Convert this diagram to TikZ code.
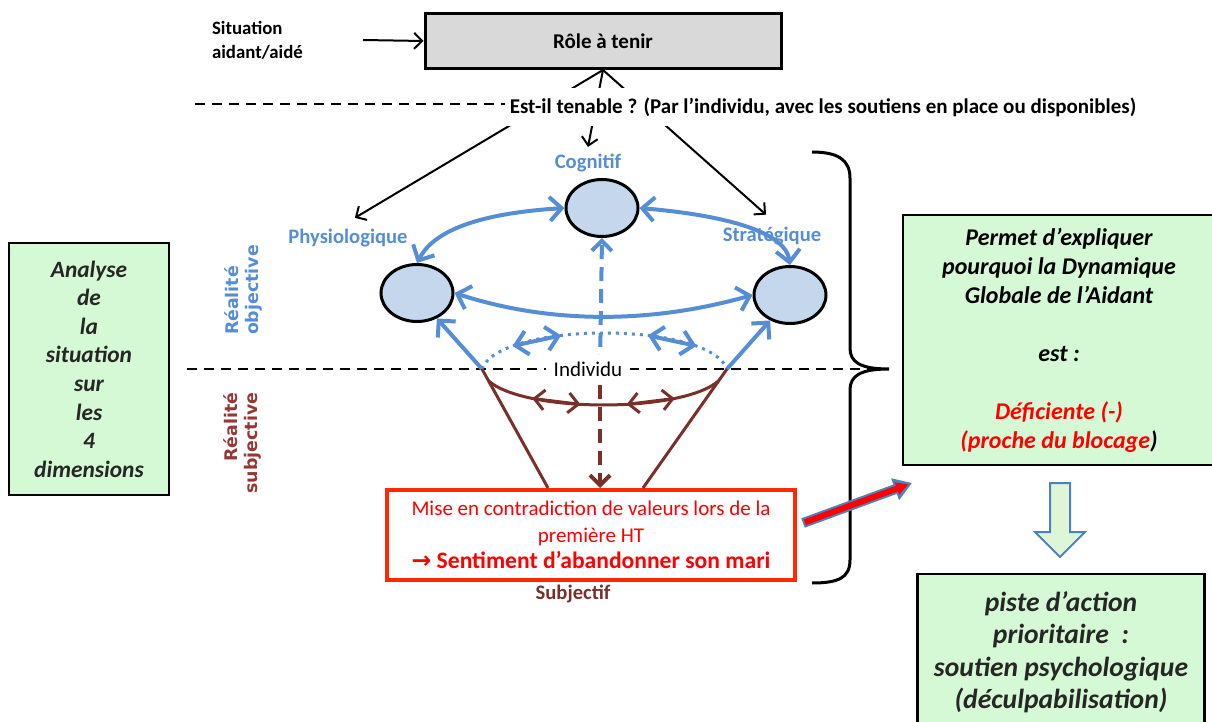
\documentclass[tikz,border=0pt]{standalone}
\usepackage{fontspec}
\setmainfont{Carlito}
\newfontfamily\dejavu{DejaVu Sans}
\usetikzlibrary{arrows.meta,shapes.geometric,shapes.arrows,positioning}

\definecolor{dimblue}{RGB}{85,142,213}
\definecolor{dimfill}{RGB}{197,215,236}
\definecolor{subbrown}{RGB}{122,48,42}
\definecolor{sublabel}{RGB}{149,55,53}
\definecolor{boxred}{RGB}{255,40,0}
\definecolor{greenfill}{RGB}{213,249,213}
\definecolor{hollowfill}{RGB}{222,246,216}
\definecolor{rolegray}{RGB}{217,217,217}
\definecolor{arrowblue}{RGB}{79,129,189}
\definecolor{textgray}{RGB}{38,38,38}

\begin{document}
\begin{tikzpicture}[
        x=0.5pt, y=-0.5pt,
        every node/.style={align=center},
        dim/.style={ellipse, draw, line width=1.5pt, fill=dimfill, minimum width=36pt, minimum height=28.5pt},
        dimlabel/.style={text=dimblue, font=\bfseries\fontsize{10.3}{12}\selectfont},
        greenbox/.style={draw, line width=1.2pt, fill=greenfill, text=textgray},
        blk/.style={line width=1pt, -{Straight Barb[length=4pt,width=8pt]}},
        bluearr/.style={draw=dimblue, line width=2pt, {Straight Barb[length=6pt,width=12pt]}-{Straight Barb[length=6pt,width=12pt]}},
        brownline/.style={draw=subbrown, line width=1.5pt},
    ]
    \tikzstyle{longdash}=[line width=2pt, dash pattern=on 7pt off 4pt, -{Straight Barb[length=5pt,width=10pt]}]
    \useasboundingbox (0,0) rectangle (1212,722);

    % role and question
    \node[draw, line width=1.5pt, fill=rolegray, minimum width=178pt, minimum height=27.5pt,
        font=\bfseries\fontsize{10.5}{12}\selectfont] (role) at (603,41) {Rôle à tenir};
    \node[anchor=west, align=left, font=\bfseries\fontsize{9.4}{12}\selectfont] (sit) at (205,40) {Situation\\aidant/aidé};
    \coordinate (sitend) at (363,40);
    \draw[blk] (sitend) -- (role.west);

    \node[dimlabel] (cogl) at (588,163) {Cognitif};
    \node[dimlabel] (phyl) at (348,238) {Physiologique};
    \node[dimlabel] (strl) at (772,236) {Stratégique};
    \draw[blk, shorten >=4pt] (role.south) -- (phyl.north);
    \draw[blk] (role.south) -- (cogl.north);
    \draw[blk, shorten >=4pt] (role.south) -- (strl.north);

    \node[fill=white, inner xsep=2pt, inner ysep=5pt, font=\bfseries\fontsize{10.5}{12}\selectfont] (tenable) at (823,107)
        {Est-il tenable ? (Par l’individu, avec les soutiens en place ou disponibles)};
    \coordinate (dashl) at (195,104);
    \draw[line width=1pt, dash pattern=on 5pt off 3.5pt] (dashl) -- (dashl -| tenable.west);

    % the three objective dimensions
    \node[dim] (cog) at (602,208) {};
    \node[dim] (phy) at (417,293) {};
    \node[dim] (str) at (790,295) {};
    \draw[bluearr] (phy.north) .. controls (432,234) and (470,214) .. (cog.west);
    \draw[bluearr] (cog.east) .. controls (710,214) and (785,228) .. (str.north);
    \draw[bluearr] (phy.east) .. controls (550,324) and (650,324) .. (str.west);

    % individu line
    \coordinate (dl) at (187,369);
    \coordinate (dr) at (885,369);
    \coordinate (vl) at (482,369);
    \coordinate (vr) at (727,369);
    \coordinate (ind) at (600,369);
    \draw[line width=1pt, dash pattern=on 5pt off 3.5pt] (dl) -- (dr);
    \draw[dimblue, line width=1.5pt, dash pattern=on 1.5pt off 2.5pt] (vl) .. controls (500,321) and (709,321) .. (vr)
        coordinate[pos=.2] (d1) coordinate[pos=.37] (d2) coordinate[pos=.63] (d3) coordinate[pos=.8] (d4);
    \draw[bluearr] (d1) -- (d2);
    \draw[bluearr] (d3) -- (d4);
    \draw[bluearr, {}-{Straight Barb[length=6pt,width=12pt]}] (vl) -- (phy.-52);
    \draw[bluearr, {}-{Straight Barb[length=6pt,width=12pt]}] (vr) -- (str.-128);
    \draw[dimblue, longdash] (ind) -- (cog.south);
    \node[fill=white, inner xsep=4pt, font=\fontsize{10.5}{12}\selectfont] (indiv) at (588,369) {Individu};

    % subjective part
    \node[draw=boxred, line width=2pt, fill=white, minimum width=204pt, minimum height=45pt, text=red,
        font=\fontsize{10.5}{13.3}\selectfont] (redbox) at (591,535)
        {Mise en contradiction de valeurs lors de la\\première HT\\{\bfseries\fontsize{11.8}{13.3}\selectfont{\dejavu\bfseries →} Sentiment d’abandonner son mari}};
    \node[below=-2pt of redbox, xshift=-9pt, text=subbrown, font=\bfseries\fontsize{10.3}{12}\selectfont] (subj) {Subjectif};
    \path (redbox.north) ++(-43,0) coordinate (bl) ++(95,0) coordinate (br);
    \draw[brownline] (vl) -- (bl) coordinate[pos=.1] (al);
    \draw[brownline] (vr) -- (br) coordinate[pos=.1] (ar);
    \draw[brownline] (al) .. controls (525,413) and (682,413) .. (ar)
        coordinate[pos=.24] (e1) coordinate[pos=.42] (e2) coordinate[pos=.58] (e3) coordinate[pos=.76] (e4);
    \draw[brownline, {Straight Barb[length=5pt,width=10pt]}-{Straight Barb[length=5pt,width=10pt]}] (e1) -- (e2);
    \draw[brownline, {Straight Barb[length=5pt,width=10pt]}-{Straight Barb[length=5pt,width=10pt]}] (e3) -- (e4);
    \draw[subbrown, longdash, shorten <=1pt] (indiv.south -| ind) -- (ind |- redbox.north);

    \node[rotate=90, align=left, text=dimblue, font=\dejavu\bfseries\fontsize{8.7}{10}\selectfont] (objl) at (243,290) {Réalité\\objective};
    \node[rotate=90, align=right, text=sublabel, font=\dejavu\bfseries\fontsize{8.7}{10}\selectfont] (subl) at (242,443) {Réalité\\subjective};

    % conclusions
    \node[greenbox, minimum width=80pt, minimum height=126pt, font=\bfseries\itshape\fontsize{11.7}{14.3}\selectfont] (analyse) at (89,369)
        {Analyse\\de\\la\\situation\\sur\\les\\4\\dimensions};
    \draw[line width=1.5pt] (812,152) .. controls (838,152) and (850,160) .. (850,178) -- (850,348)
        .. controls (850,362) and (860,369) .. (889,369) .. controls (860,369) and (850,376) .. (850,390)
        -- (850,560) .. controls (850,578) and (838,583) .. (812,583);
    \node[greenbox, text=black, minimum width=156pt, minimum height=125pt, font=\bfseries\itshape\fontsize{12}{14.5}\selectfont] (permet) at (1059,340)
        {Permet d’expliquer\\pourquoi la Dynamique\\Globale de l’Aidant\\[14.5pt]est :\\[14.5pt]\textcolor{red}{Déficiente (-)}\\\textcolor{red}{(proche du blocage})};
    \node[greenbox, minimum width=143.5pt, minimum height=78pt, font=\bfseries\itshape\fontsize{13.8}{16.25}\selectfont] (piste) at (1061,652)
        {piste d’action\\prioritaire~~:\\soutien psychologique\\(déculpabilisation)};
    \node[single arrow, draw=arrowblue, line width=1pt, fill=hollowfill, rotate=-90, minimum height=37pt,
        inner xsep=0pt, inner ysep=4.5pt, single arrow head extend=7.5pt] (down) at (1060,515) {};
    \coordinate (ra) at (803,523);
    \coordinate (rb) at (912,483);
    \draw[line width=5pt, arrowblue, -{Triangle[length=9pt,width=11pt]}] (ra) -- (rb);
    \draw[line width=3pt, red, -{Triangle[length=6pt,width=6pt]}, shorten <=1pt, shorten >=2pt] (ra) -- (rb);
\end{tikzpicture}
\end{document}
